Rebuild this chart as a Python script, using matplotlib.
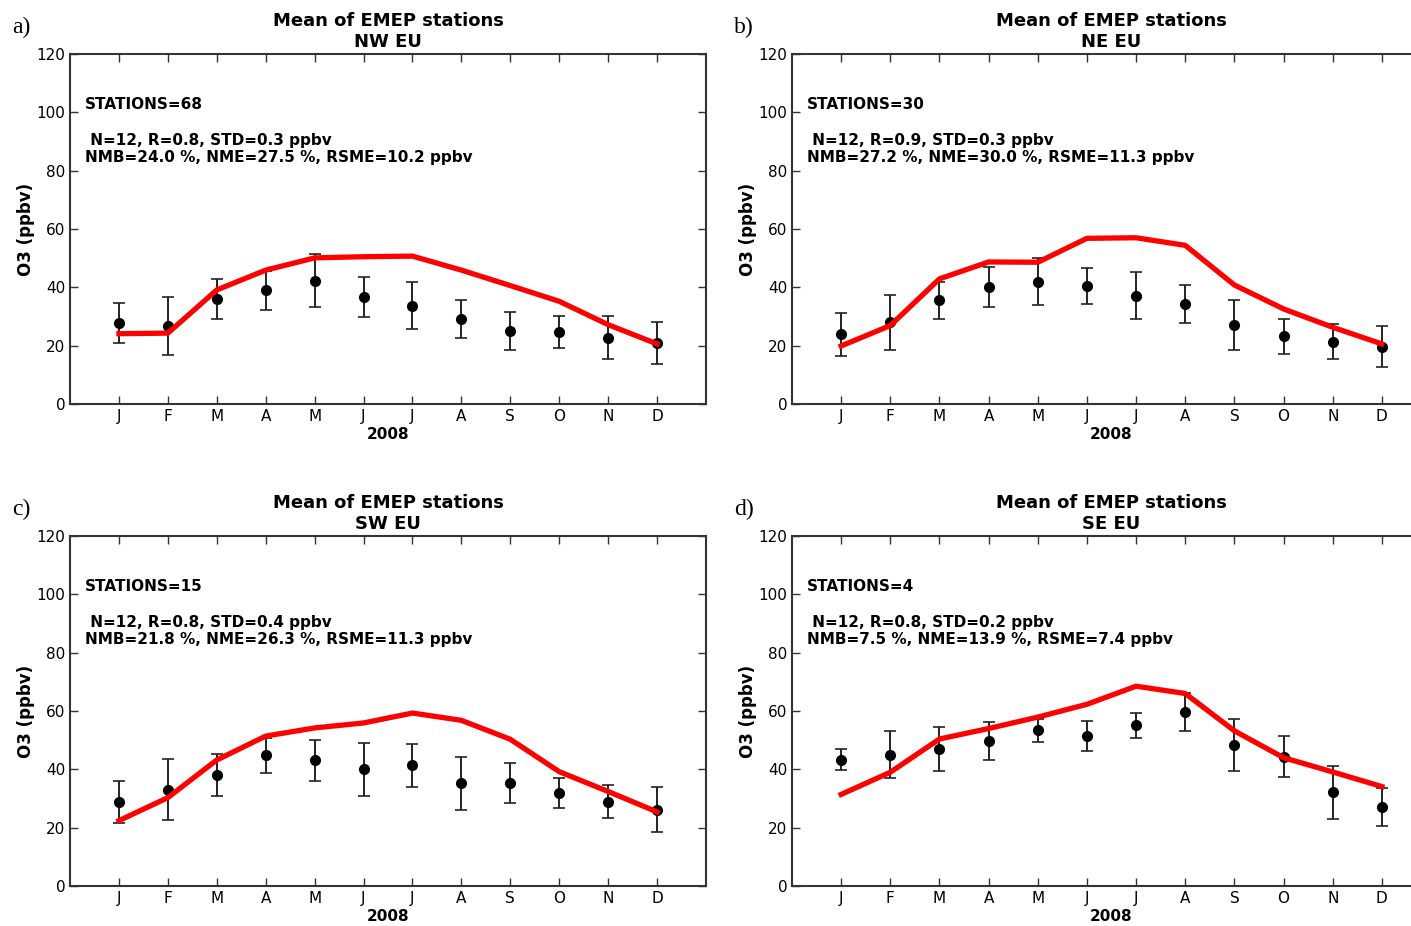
import matplotlib
matplotlib.use("Agg")
import matplotlib.pyplot as plt

W, H = 1411, 926

months = ["J", "F", "M", "A", "M", "J", "J", "A", "S", "O", "N", "D"]
x = list(range(1, 13))

regions = ["NW EU", "NE EU", "SW EU", "SE EU"]
letters = ["a)", "b)", "c)", "d)"]
stations = [68, 30, 15, 4]
stats1 = [" N=12, R=0.8, STD=0.3 ppbv", " N=12, R=0.9, STD=0.3 ppbv",
          " N=12, R=0.8, STD=0.4 ppbv", " N=12, R=0.8, STD=0.2 ppbv"]
stats2 = ["NMB=24.0 %, NME=27.5 %, RSME=10.2 ppbv",
          "NMB=27.2 %, NME=30.0 %, RSME=11.3 ppbv",
          "NMB=21.8 %, NME=26.3 %, RSME=11.3 ppbv",
          "NMB=7.5 %, NME=13.9 %, RSME=7.4 ppbv"]

# observed means and std (error bars)
obs_nw = [27.7, 26.7, 35.9, 39.0, 42.3, 36.7, 33.7, 29.0, 25.1, 24.7, 22.7, 20.9]
err_nw = [6.8, 9.9, 6.8, 6.6, 9.0, 7.0, 8.0, 6.5, 6.6, 5.5, 7.4, 7.2]
mod_nw = [24.1, 24.3, 39.1, 45.9, 50.1, 50.5, 50.7, 45.9, 40.6, 35.2, 27.2, 20.6]

obs_ne = [23.9, 28.0, 35.5, 40.1, 41.9, 40.5, 37.1, 34.3, 27.1, 23.2, 21.4, 19.7]
err_ne = [7.3, 9.4, 6.3, 6.8, 8.1, 6.3, 8.0, 6.5, 8.5, 6.1, 6.1, 7.0]
mod_ne = [19.9, 26.9, 42.9, 48.7, 48.6, 56.8, 57.0, 54.4, 40.8, 32.6, 26.3, 20.6]

obs_sw = [28.7, 33.0, 38.0, 44.8, 43.1, 40.0, 41.4, 35.2, 35.3, 31.9, 28.9, 26.2]
err_sw = [7.2, 10.5, 7.2, 5.9, 7.0, 9.2, 7.3, 9.0, 7.0, 5.1, 5.6, 7.7]
mod_sw = [22.4, 30.3, 43.2, 51.4, 54.2, 55.9, 59.3, 56.8, 50.3, 39.2, 32.4, 25.4]

obs_se = [43.3, 45.0, 47.0, 49.8, 53.4, 51.4, 55.1, 59.6, 48.5, 44.3, 32.2, 27.1]
err_se = [3.6, 8.0, 7.6, 6.6, 4.0, 5.2, 4.3, 6.6, 8.9, 7.0, 9.1, 6.6]
mod_se = [31.4, 39.0, 50.4, 54.0, 57.9, 62.3, 68.5, 66.0, 53.2, 44.0, 39.1, 34.1]

obs = [obs_nw, obs_ne, obs_sw, obs_se]
errs = [err_nw, err_ne, err_sw, err_se]
mods = [mod_nw, mod_ne, mod_sw, mod_se]

# axes boxes in pixels: left, right, top, bottom
boxes = [(70, 706, 54, 404), (792, 1431, 54, 404),
         (70, 706, 536, 886), (792, 1431, 536, 886)]

fig = plt.figure(figsize=(W / 100, H / 100), dpi=100)

for i in range(4):
    l, r, t, b = boxes[i]
    ax = fig.add_axes([l / W, 1 - b / H, (r - l) / W, (b - t) / H])
    ax.plot(x, mods[i], color="red", lw=3.8, zorder=3)
    ax.errorbar(x, obs[i], yerr=errs[i], fmt="o", color="black", ms=7,
                ecolor="#222222", elinewidth=1.4, capsize=4, capthick=1.2,
                zorder=2)
    ax.set_xlim(0, 13)
    ax.set_ylim(0, 120)
    ax.set_xticks(x)
    ax.set_xticklabels(months)
    ax.set_yticks(range(0, 121, 20))
    ax.tick_params(direction="in", top=True, right=True, length=6,
                   width=1, labelsize=11, color="#333333")
    for s in ax.spines.values():
        s.set_linewidth(1.5)
        s.set_color("#333333")
    ax.set_xlabel("2008", fontsize=11, fontweight="bold", labelpad=2)
    ax.set_ylabel("O3 (ppbv)", fontsize=12, fontweight="bold", labelpad=1)
    ax.set_title("Mean of EMEP stations\n" + regions[i], fontsize=13,
                 fontweight="bold", linespacing=1.25, pad=5)
    ax.text(0.3, 100, "STATIONS=%d" % stations[i], fontsize=11,
            fontweight="bold", va="bottom")
    ax.text(0.3, 82, stats1[i] + "\n" + stats2[i], fontsize=11,
            fontweight="bold", va="bottom", linespacing=1.15)
    fig.text((l - 58) / W, 1 - 27 / H if i < 2 else 1 - 509 / H, letters[i],
             family="Liberation Serif", fontsize=17, va="center")

fig.savefig("out.png", dpi=100)
